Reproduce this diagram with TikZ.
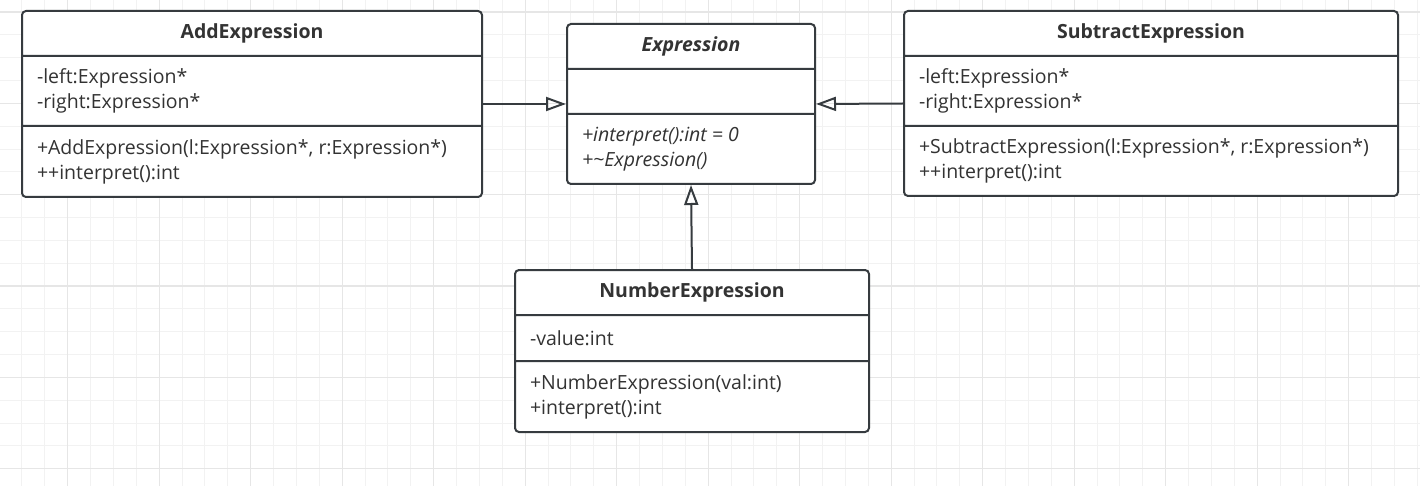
\documentclass[tikz,border=0pt]{standalone}
\usepackage{fontspec}
\setmainfont{Open Sans}
\usetikzlibrary{shapes.multipart, positioning, arrows.meta}

\definecolor{umlline}{HTML}{363B3F}
\definecolor{umltext}{HTML}{333333}
\definecolor{gridminor}{HTML}{F2F2F2}
\definecolor{gridmajor}{HTML}{E6E6E6}

\newcommand{\umlhead}[2]{\parbox[c][43pt][c]{#1}{\centering #2}}
\newcommand{\umlpart}[3]{\parbox[c][#1][c]{#2}{\raggedright\leftskip=15pt #3}}

\tikzset{
  umlclass/.style={rectangle split, rectangle split parts=3, draw=umlline, line width=2pt,
    rounded corners=4pt, fill=white, inner xsep=0pt, inner ysep=0pt, anchor=north west,
    text=umltext, font=\fontsize{19.5}{25}\selectfont},
  inherit/.style={draw=umlline, line width=2pt, -{Triangle[open, length=20pt, width=14pt]}}
}

\begin{document}
\begin{tikzpicture}[x=1pt, y=-1pt]
\useasboundingbox (0,0) rectangle (1420,486);
\fill[white] (0,0) rectangle (1420,486);
\foreach \gx in {0,...,62} \draw[gridminor, line width=1pt] ({21.95+22.875*\gx},0) -- ++(0,486);
\foreach \gy in {0,...,21} \draw[gridminor, line width=1pt] (0,{12+22.84*\gy}) -- ++(1420,0);
\foreach \gx in {0,...,16} \draw[gridmajor, line width=1.3pt] ({-23.8+91.5*\gx},0) -- ++(0,486);
\foreach \gy in {0,...,5} \draw[gridmajor, line width=1.3pt] (0,{12+91.35*\gy}) -- ++(1420,0);

\node[umlclass] (add) at (21,10) {\umlhead{460pt}{\textbf{AddExpression}}
  \nodepart{two}\umlpart{68pt}{460pt}{-left:Expression*\\-right:Expression*}
  \nodepart{three}\umlpart{69pt}{460pt}{+AddExpression(l:Expression*, r:Expression*)\\++interpret():int}};
\node[umlclass] (expr) at (566,23) {\umlhead{248pt}{\textbf{\textit{Expression}}}
  \nodepart{two}\umlpart{43pt}{248pt}{}
  \nodepart{three}\umlpart{68pt}{248pt}{\itshape +interpret():int = 0\\+\textasciitilde Expression()}};
\node[umlclass] (sub) at (903,10) {\umlhead{494pt}{\textbf{SubtractExpression}}
  \nodepart{two}\umlpart{68pt}{494pt}{-left:Expression*\\-right:Expression*}
  \nodepart{three}\umlpart{68pt}{494pt}{+SubtractExpression(l:Expression*, r:Expression*)\\++interpret():int}};
\node[umlclass] (num) at (514,269) {\umlhead{354pt}{\textbf{NumberExpression}}
  \nodepart{two}\umlpart{44pt}{354pt}{-value:int}
  \nodepart{three}\umlpart{69pt}{354pt}{+NumberExpression(val:int)\\+interpret():int}};

\draw[inherit] (add.east) -- (expr.west);
\draw[inherit] (sub.west) -- (expr.east);
\draw[inherit] (num.north) -- (expr.south);
\end{tikzpicture}
\end{document}
